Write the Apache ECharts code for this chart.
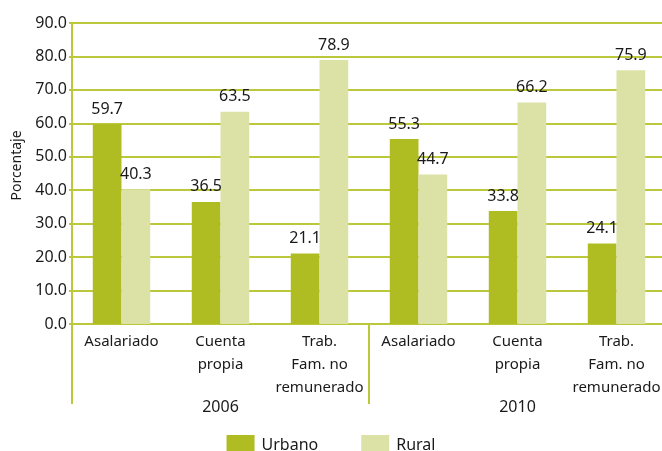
<!DOCTYPE html>
<html>
<head>
<meta charset="utf-8">
<script src="https://cdn.jsdelivr.net/npm/echarts@6/dist/echarts.min.js"></script>
<style>
  html, body { margin: 0; padding: 0; background: #fff; }
  #chart { width: 662px; height: 451px; }
</style>
</head>
<body>
<div id="chart"></div>
<script>
var categories = ['Asalariado', 'Cuenta\npropia', 'Trab.\nFam. no\nremunerado',
                  'Asalariado', 'Cuenta\npropia', 'Trab.\nFam. no\nremunerado'];
var years = ['2006', '2010'];
var urbano = [59.7, 36.5, 21.1, 55.3, 33.8, 24.1];
var rural  = [40.3, 63.5, 78.9, 44.7, 66.2, 75.9];

(function () {
    var el = document.getElementById('chart');
    var green  = '#afbd22';
    var light  = '#dce2a6';
    var lineC  = '#bcc83c';
    var textC  = '#1a1a1a';
    var font   = '"Noto Sans", sans-serif';

    var chart = echarts.init(el, null, { renderer: 'canvas' });

    function labelOpt() {
        return {
            show: true,
            position: 'top',
            distance: 7,
            color: textC,
            fontFamily: font,
            fontSize: 16,
            formatter: function (p) { return p.value.toFixed(1); }
        };
    }

    chart.setOption({
        animation: false,
        backgroundColor: '#fff',
        textStyle: { fontFamily: font, color: textC },
        grid: { left: 72, top: 23, width: 594, height: 301, containLabel: false, outerBoundsMode: 'none' },
        legend: {
            top: 430,
            left: 'center',
            itemWidth: 28,
            itemHeight: 21,
            itemGap: 43,
            icon: 'rect',
            textStyle: { fontFamily: font, fontSize: 16, color: textC, padding: [0, 0, 0, 2] },
            data: ['Urbano', 'Rural']
        },
        xAxis: [{
            type: 'category',
            data: categories,
            position: 'bottom',
            axisLine: { show: true, lineStyle: { color: lineC, width: 2 } },
            axisTick: { show: false },
            axisLabel: {
                interval: 0,
                margin: 6,
                color: textC,
                fontFamily: font,
                fontSize: 15,
                lineHeight: 23
            }
        }, {
            type: 'category',
            data: years,
            position: 'bottom',
            offset: 0,
            axisLine: { show: false },
            axisTick: { show: true, length: 80, lineStyle: { color: lineC, width: 2 } },
            axisLabel: {
                margin: 75,
                color: textC,
                fontFamily: font,
                fontSize: 16
            }
        }],
        yAxis: {
            type: 'value',
            min: 0,
            max: 90,
            interval: 10,
            name: 'Porcentaje',
            nameLocation: 'middle',
            nameRotate: 90,
            nameGap: 46,
            nameTextStyle: { fontFamily: font, fontSize: 14, color: textC, padding: [0, 0, 0, 16] },
            axisLine: { show: true, lineStyle: { color: lineC, width: 2 } },
            axisTick: { show: true, length: 3, lineStyle: { color: lineC, width: 2 } },
            splitLine: { show: true, lineStyle: { color: lineC, width: 2 } },
            axisLabel: {
                margin: 5,
                color: textC,
                fontFamily: font,
                fontSize: 16,
                formatter: function (v) { return v.toFixed(1); }
            }
        },
        series: [{
            name: 'Urbano',
            type: 'bar',
            data: urbano,
            barGap: '0%',
            barCategoryGap: '42%',
            itemStyle: { color: green },
            label: labelOpt()
        }, {
            name: 'Rural',
            type: 'bar',
            data: rural,
            itemStyle: { color: light },
            label: labelOpt()
        }]
    });
})();
</script>
</body>
</html>
